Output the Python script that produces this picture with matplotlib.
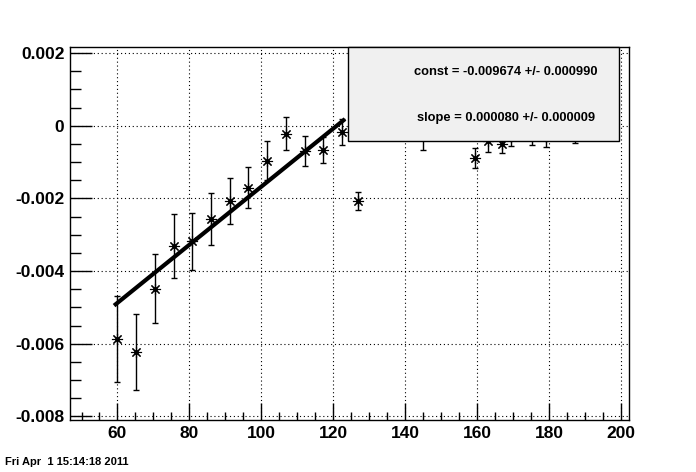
import numpy as np
import matplotlib
matplotlib.use('Agg')
import matplotlib.pyplot as plt
from matplotlib.ticker import MultipleLocator, FuncFormatter
from matplotlib.patches import Rectangle

plt.rcParams['font.family'] = ['Liberation Sans', 'DejaVu Sans']
plt.rcParams['font.weight'] = 'bold'

# data points
x = [60, 65.1, 70.4, 75.6, 80.6, 86.0, 91.3, 96.2, 101.6, 106.9, 112.0, 117.1,
     122.4, 127.0, 145.0, 159.4, 163.1, 167.0, 169.3, 175.1, 179.2, 187.1]
y = [-0.00587, -0.00623, -0.00448, -0.00330, -0.00318, -0.00257, -0.00207,
     -0.00170, -0.00096, -0.00022, -0.00070, -0.00067, -0.00017, -0.00207,
     -0.00028, -0.00088, -0.00043, -0.00050, -0.00030, -0.00028, -0.00030,
     -0.00022]
yerr = [0.00118, 0.00105, 0.00096, 0.00088, 0.00078, 0.00071, 0.00064, 0.00057,
        0.00053, 0.00045, 0.00041, 0.00035, 0.00035, 0.00024, 0.00038, 0.00027,
        0.00029, 0.00025, 0.00025, 0.00024, 0.00028, 0.00025]

# fit results
const = -0.009674
const_err = 0.000990
slope = 0.000080
slope_err = 0.000009
fit_range = [59.5, 122.8]

fig = plt.figure(figsize=(6.96, 4.72), dpi=100)
ax = fig.add_axes([70/696, 1 - 420/472, (629-70)/696, (420-47)/472])

ax.errorbar(x, y, yerr=yerr, fmt='none', ecolor='black', elinewidth=1,
            capsize=2.3, capthick=1, zorder=3)
ax.plot(x, y, linestyle='none', marker=(8, 2, 0), markersize=8,
        markeredgewidth=0.8, color='black', zorder=3)
ax.plot(x, y, linestyle='none', marker='o', markersize=2.5, color='black', zorder=3)

xf = np.linspace(fit_range[0], fit_range[1], 50)
ax.plot(xf, const + slope * xf, color='black', linewidth=3, zorder=4)

ax.set_xlim(46.8, 202.2)
ax.set_ylim(-0.0081, 0.00217)

ax.xaxis.set_major_locator(MultipleLocator(20))
ax.xaxis.set_minor_locator(MultipleLocator(5))
ax.yaxis.set_major_locator(MultipleLocator(0.002))
ax.yaxis.set_minor_locator(MultipleLocator(0.0005))


def yfmt(v, pos):
    if abs(v) < 1e-9:
        return '0'
    return '%g' % round(v, 4)


ax.yaxis.set_major_formatter(FuncFormatter(yfmt))

ax.tick_params(axis='both', which='both', direction='in', top=False, right=False,
               width=1, labelsize=12.5)
ax.tick_params(axis='x', which='major', length=12, pad=4)
ax.tick_params(axis='x', which='minor', length=6)
ax.tick_params(axis='y', which='major', length=16, pad=4)
ax.tick_params(axis='y', which='minor', length=8)
for lab in ax.get_xticklabels() + ax.get_yticklabels():
    lab.set_fontweight('bold')

ax.grid(True, which='major', color='black', linestyle=(0, (1, 2.5)), linewidth=0.8)
ax.set_axisbelow(True)
for sp in ax.spines.values():
    sp.set_linewidth(1)

# stats box
bx0, bx1 = (348-70)/559, (619-70)/559
by0, by1 = (420-141)/373, (420-47)/373
ax.add_patch(Rectangle((bx0, by0), bx1 - bx0, by1 - by0, transform=ax.transAxes,
                       facecolor='#f0f0f0', edgecolor='black', linewidth=1,
                       zorder=10, clip_on=False))
ax.text((598-70)/559, (420-72)/373, 'const = %.6f +/- %.6f' % (const, const_err),
        transform=ax.transAxes, ha='right', va='center', fontsize=9.3,
        fontweight='bold', zorder=11)
ax.text((595-70)/559, (420-118)/373, 'slope = %.6f +/- %.6f' % (slope, slope_err),
        transform=ax.transAxes, ha='right', va='center', fontsize=9.3,
        fontweight='bold', zorder=11)

fig.text(5/696, 1 - 462/472, 'Fri Apr  1 15:14:18 2011', fontsize=8,
         fontweight='bold', ha='left', va='center')

fig.savefig('out.png', dpi=100)
